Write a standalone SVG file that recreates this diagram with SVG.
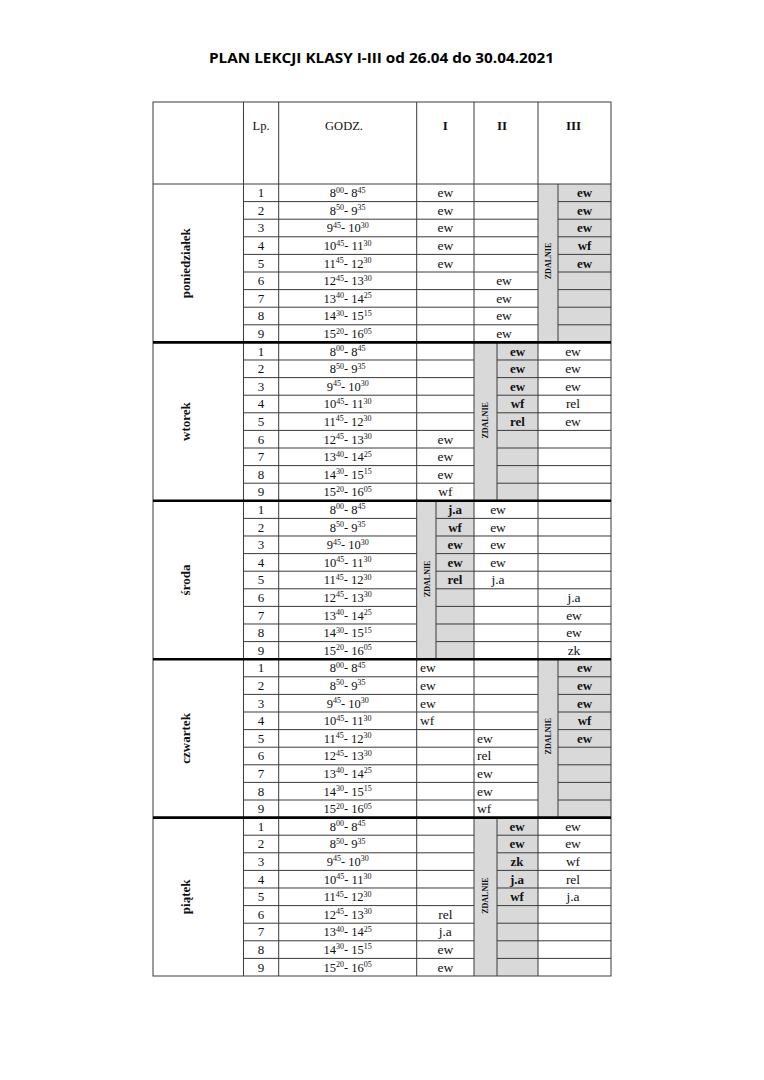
<svg xmlns="http://www.w3.org/2000/svg" width="764" height="1080" viewBox="0 0 764 1080">
<style>
.bg{fill:#fff}
.g{fill:#d9d9d9}
.ln{stroke:#3a3a3a;stroke-width:1;fill:none}
.tk{stroke:#000;stroke-width:2.6;fill:none}
.n,.h,.c,.cl,.cb,.z,.d,.hd{font-family:"Liberation Serif","Times New Roman",serif;fill:#111}
.n{font-size:13px;text-anchor:middle}
.h{font-size:12.5px;text-anchor:middle}
.s{font-size:8px}
.c{font-size:13.5px;text-anchor:middle}
.cl{font-size:13.5px}
.cb{font-size:13px;font-weight:bold;text-anchor:middle}
.z{font-size:8px;font-weight:bold;text-anchor:middle}
.d{font-size:13px;font-weight:bold;text-anchor:middle}
.hd{font-size:12.5px;text-anchor:middle}
.title{font-family:"Open Sans","Liberation Sans",Arial,sans-serif;font-size:15px;font-weight:bold;fill:#000;text-anchor:middle}
</style>
<defs>
<g id="times">
<text class="n" x="261.1" y="13.2">1</text>
<text class="n" x="261.1" y="30.8">2</text>
<text class="n" x="261.1" y="48.4">3</text>
<text class="n" x="261.1" y="66">4</text>
<text class="n" x="261.1" y="83.6">5</text>
<text class="n" x="261.1" y="101.2">6</text>
<text class="n" x="261.1" y="118.8">7</text>
<text class="n" x="261.1" y="136.4">8</text>
<text class="n" x="261.1" y="154">9</text>
<text class="h" x="347.7" y="13.2">8<tspan class="s" dy="-4.5">00</tspan><tspan dy="4.5">- 8</tspan><tspan class="s" dy="-4.5">45</tspan></text>
<text class="h" x="347.7" y="30.8">8<tspan class="s" dy="-4.5">50</tspan><tspan dy="4.5">- 9</tspan><tspan class="s" dy="-4.5">35</tspan></text>
<text class="h" x="347.7" y="48.4">9<tspan class="s" dy="-4.5">45</tspan><tspan dy="4.5">- 10</tspan><tspan class="s" dy="-4.5">30</tspan></text>
<text class="h" x="347.7" y="66">10<tspan class="s" dy="-4.5">45</tspan><tspan dy="4.5">- 11</tspan><tspan class="s" dy="-4.5">30</tspan></text>
<text class="h" x="347.7" y="83.6">11<tspan class="s" dy="-4.5">45</tspan><tspan dy="4.5">- 12</tspan><tspan class="s" dy="-4.5">30</tspan></text>
<text class="h" x="347.7" y="101.2">12<tspan class="s" dy="-4.5">45</tspan><tspan dy="4.5">- 13</tspan><tspan class="s" dy="-4.5">30</tspan></text>
<text class="h" x="347.7" y="118.8">13<tspan class="s" dy="-4.5">40</tspan><tspan dy="4.5">- 14</tspan><tspan class="s" dy="-4.5">25</tspan></text>
<text class="h" x="347.7" y="136.4">14<tspan class="s" dy="-4.5">30</tspan><tspan dy="4.5">- 15</tspan><tspan class="s" dy="-4.5">15</tspan></text>
<text class="h" x="347.7" y="154">15<tspan class="s" dy="-4.5">20</tspan><tspan dy="4.5">- 16</tspan><tspan class="s" dy="-4.5">05</tspan></text>
</g>
<path id="rowsA" class="ln" d="M243.5 17.6H538M558 17.6H611M243.5 35.2H538M558 35.2H611M243.5 52.8H538M558 52.8H611M243.5 70.4H538M558 70.4H611M243.5 88H538M558 88H611M243.5 105.6H538M558 105.6H611M243.5 123.2H538M558 123.2H611M243.5 140.8H538M558 140.8H611M558 0V158.4"/>
<path id="rowsB" class="ln" d="M243.5 17.6H474M497 17.6H611M243.5 35.2H474M497 35.2H611M243.5 52.8H474M497 52.8H611M243.5 70.4H474M497 70.4H611M243.5 88H474M497 88H611M243.5 105.6H474M497 105.6H611M243.5 123.2H474M497 123.2H611M243.5 140.8H474M497 140.8H611M497 0V158.4"/>
<path id="rowsC" class="ln" d="M243.5 17.6H416.7M436 17.6H611M243.5 35.2H416.7M436 35.2H611M243.5 52.8H416.7M436 52.8H611M243.5 70.4H416.7M436 70.4H611M243.5 88H416.7M436 88H611M243.5 105.6H416.7M436 105.6H611M243.5 123.2H416.7M436 123.2H611M243.5 140.8H416.7M436 140.8H611M436 0V158.4"/>
</defs>
<rect class="bg" x="0" y="0" width="764" height="1080"/>
<text class="title" x="381.5" y="63" textLength="345" lengthAdjust="spacingAndGlyphs">PLAN LEKCJI KLASY I-III od 26.04 do 30.04.2021</text>

<g id="header">
<text class="hd" x="261.1" y="130">Lp.</text>
<text class="hd" x="344" y="130">GODZ.</text>
<text class="d" x="445.3" y="130">I</text>
<text class="d" x="502" y="130">II</text>
<text class="d" x="573.5" y="130">III</text>
</g>

<g id="poniedzialek" transform="translate(0,184)">
<rect class="g" x="538" y="0" width="73" height="158.4"/>
<use href="#rowsA"/>
<text class="d" transform="translate(185,79.2) rotate(-90)" y="4.5">poniedziałek</text>
<use href="#times"/>
<text class="c" x="445.3" y="13.2">ew</text>
<text class="c" x="445.3" y="30.8">ew</text>
<text class="c" x="445.3" y="48.4">ew</text>
<text class="c" x="445.3" y="66">ew</text>
<text class="c" x="445.3" y="83.6">ew</text>
<text class="c" x="504" y="101.2">ew</text>
<text class="c" x="504" y="118.8">ew</text>
<text class="c" x="504" y="136.4">ew</text>
<text class="c" x="504" y="154">ew</text>
<text class="z" transform="translate(548,77) rotate(-90)" y="2.7">ZDALNIE</text>
<text class="cb" x="584.5" y="13.2">ew</text>
<text class="cb" x="584.5" y="30.8">ew</text>
<text class="cb" x="584.5" y="48.4">ew</text>
<text class="cb" x="584.5" y="66">wf</text>
<text class="cb" x="584.5" y="83.6">ew</text>
</g>

<g id="wtorek" transform="translate(0,342.4)">
<rect class="g" x="474" y="0" width="64" height="158.4"/>
<use href="#rowsB"/>
<text class="d" transform="translate(185,79.2) rotate(-90)" y="4.5">wtorek</text>
<use href="#times"/>
<text class="c" x="445.3" y="101.2">ew</text>
<text class="c" x="445.3" y="118.8">ew</text>
<text class="c" x="445.3" y="136.4">ew</text>
<text class="c" x="445.3" y="154">wf</text>
<text class="z" transform="translate(485.5,78) rotate(-90)" y="2.7">ZDALNIE</text>
<text class="cb" x="517.5" y="13.2">ew</text>
<text class="cb" x="517.5" y="30.8">ew</text>
<text class="cb" x="517.5" y="48.4">ew</text>
<text class="cb" x="517.5" y="66">wf</text>
<text class="cb" x="517.5" y="83.6">rel</text>
<text class="c" x="573" y="13.2">ew</text>
<text class="c" x="573" y="30.8">ew</text>
<text class="c" x="573" y="48.4">ew</text>
<text class="c" x="573" y="66">rel</text>
<text class="c" x="573" y="83.6">ew</text>
</g>

<g id="sroda" transform="translate(0,500.8)">
<rect class="g" x="416.7" y="0" width="57.3" height="158.4"/>
<use href="#rowsC"/>
<text class="d" transform="translate(185,79.2) rotate(-90)" y="4.5">środa</text>
<use href="#times"/>
<text class="z" transform="translate(427,78) rotate(-90)" y="2.7">ZDALNIE</text>
<text class="cb" x="455" y="13.2">j.a</text>
<text class="cb" x="455" y="30.8">wf</text>
<text class="cb" x="455" y="48.4">ew</text>
<text class="cb" x="455" y="66">ew</text>
<text class="cb" x="455" y="83.6">rel</text>
<text class="c" x="498" y="13.2">ew</text>
<text class="c" x="498" y="30.8">ew</text>
<text class="c" x="498" y="48.4">ew</text>
<text class="c" x="498" y="66">ew</text>
<text class="c" x="498" y="83.6">j.a</text>
<text class="c" x="574" y="101.2">j.a</text>
<text class="c" x="574" y="118.8">ew</text>
<text class="c" x="574" y="136.4">ew</text>
<text class="c" x="574" y="154">zk</text>
</g>

<g id="czwartek" transform="translate(0,659.2)">
<rect class="g" x="538" y="0" width="73" height="158.4"/>
<use href="#rowsA"/>
<text class="d" transform="translate(185,79.2) rotate(-90)" y="4.5">czwartek</text>
<use href="#times"/>
<text class="cl" x="420" y="13.2">ew</text>
<text class="cl" x="420" y="30.8">ew</text>
<text class="cl" x="420" y="48.4">ew</text>
<text class="cl" x="420" y="66">wf</text>
<text class="cl" x="477" y="83.6">ew</text>
<text class="cl" x="477" y="101.2">rel</text>
<text class="cl" x="477" y="118.8">ew</text>
<text class="cl" x="477" y="136.4">ew</text>
<text class="cl" x="477" y="154">wf</text>
<text class="z" transform="translate(548,77) rotate(-90)" y="2.7">ZDALNIE</text>
<text class="cb" x="584.5" y="13.2">ew</text>
<text class="cb" x="584.5" y="30.8">ew</text>
<text class="cb" x="584.5" y="48.4">ew</text>
<text class="cb" x="584.5" y="66">wf</text>
<text class="cb" x="584.5" y="83.6">ew</text>
</g>

<g id="piatek" transform="translate(0,817.6)">
<rect class="g" x="474" y="0" width="64" height="158.4"/>
<use href="#rowsB"/>
<text class="d" transform="translate(185,79.2) rotate(-90)" y="4.5">piątek</text>
<use href="#times"/>
<text class="c" x="445.3" y="101.2">rel</text>
<text class="c" x="445.3" y="118.8">j.a</text>
<text class="c" x="445.3" y="136.4">ew</text>
<text class="c" x="445.3" y="154">ew</text>
<text class="z" transform="translate(485.5,78) rotate(-90)" y="2.7">ZDALNIE</text>
<text class="cb" x="517" y="13.2">ew</text>
<text class="cb" x="517" y="30.8">ew</text>
<text class="cb" x="517" y="48.4">zk</text>
<text class="cb" x="517" y="66">j.a</text>
<text class="cb" x="517" y="83.6">wf</text>
<text class="c" x="573" y="13.2">ew</text>
<text class="c" x="573" y="30.8">ew</text>
<text class="c" x="573" y="48.4">wf</text>
<text class="c" x="573" y="66">rel</text>
<text class="c" x="573" y="83.6">j.a</text>
</g>

<g id="grid">
<path class="ln" d="M243.5 102V976M278.7 102V976M416.7 102V976M474 102V976M538 102V976M153 184H611"/>
<rect class="ln" x="153" y="102" width="458" height="874"/>
<path class="tk" d="M153 342.4H611M153 500.8H611M153 659.2H611M153 817.6H611"/>
</g>
</svg>
